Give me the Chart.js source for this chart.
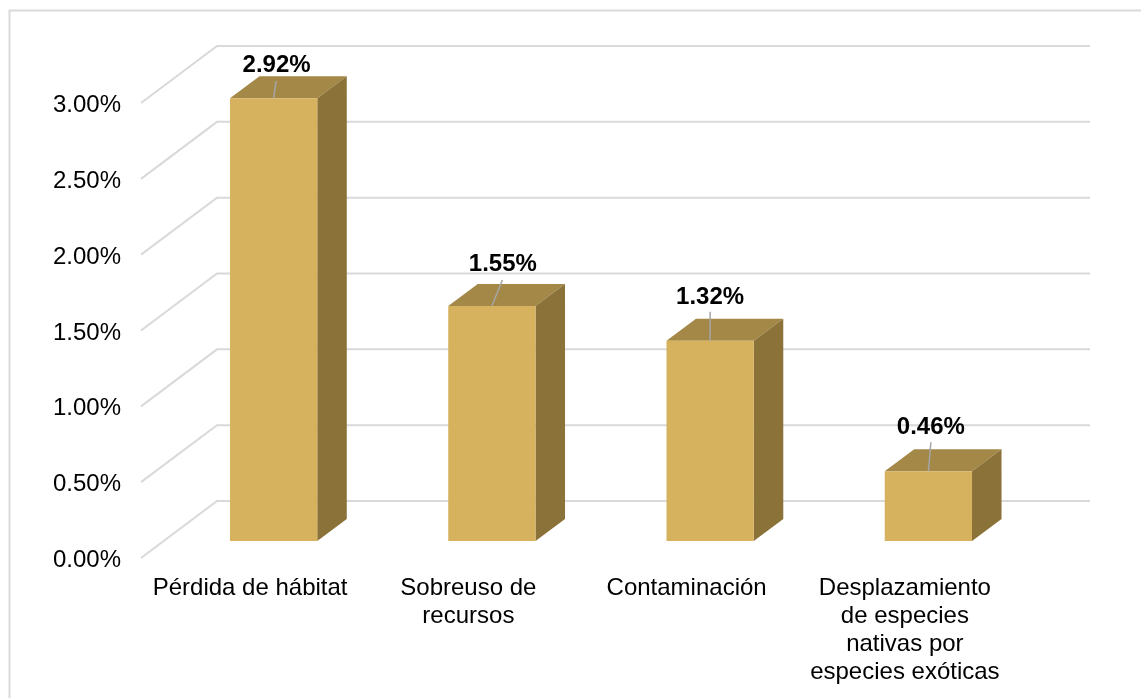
<!DOCTYPE html>
<html lang="es">
<head>
<meta charset="utf-8">
<title>Amenazas</title>
<script src="https://cdn.jsdelivr.net/npm/chart.js@4/dist/chart.umd.min.js"></script>
<style>
  html, body { margin: 0; padding: 0; background: #fff; }
  canvas { display: block; }
</style>
</head>
<body>
<canvas id="chart" width="1141" height="698"></canvas>
<script>
const categories = [
  'Pérdida de hábitat',
  ['Sobreuso de', 'recursos'],
  'Contaminación',
  ['Desplazamiento', 'de especies', 'nativas por', 'especies exóticas']
];
const values = [2.92, 1.55, 1.32, 0.46];
const tickLabels = ['0.00%', '0.50%', '1.00%', '1.50%', '2.00%', '2.50%', '3.00%'];
const wallTicks = [0, 0.5, 1, 1.5, 2, 2.5, 3];
// where each data label and its leader line sit, relative to the top centre of the bar
const labelOffsets = [[3, -33], [11, -42], [0, -43], [2.5, -43.5]];
const leaderOffsets = [[2.5, -17], [10.5, -26], [0, -29], [2.5, -29]];

const FONT = '"Liberation Sans", Arial, sans-serif';
const wall = { dx: 76, dy: -57 };
const barShift = { dx: 23.5, dy: -17 };
const depth = { dx: 29.5, dy: -22 };

const box3d = {
  id: 'box3d',
  beforeDraw(chart) {
    const c = chart.ctx;
    c.save();
    c.strokeStyle = '#d9d9d9';
    c.lineWidth = 2;
    c.beginPath();
    c.moveTo(9.5, 698);
    c.lineTo(9.5, 10.5);
    c.lineTo(1141, 10.5);
    c.stroke();
    c.restore();
  },
  beforeDatasetsDraw(chart) {
    const c = chart.ctx;
    const { left, right } = chart.chartArea;
    c.save();
    c.strokeStyle = '#d9d9d9';
    c.lineWidth = 2;
    wallTicks.forEach(v => {
      const y = chart.scales.y.getPixelForValue(v);
      c.beginPath();
      c.moveTo(left, y);
      c.lineTo(left + wall.dx, y + wall.dy);
      c.lineTo(right + wall.dx, y + wall.dy);
      c.stroke();
    });
    c.restore();
  },
  beforeDatasetDraw(chart) {
    const c = chart.ctx;
    c.save();
    c.translate(barShift.dx, barShift.dy);
    chart.getDatasetMeta(0).data.forEach(bar => {
      const x0 = bar.x - bar.width / 2, x1 = bar.x + bar.width / 2;
      c.fillStyle = '#a38847';
      c.beginPath();
      c.moveTo(x0, bar.y);
      c.lineTo(x0 + depth.dx, bar.y + depth.dy);
      c.lineTo(x1 + depth.dx, bar.y + depth.dy);
      c.lineTo(x1, bar.y);
      c.closePath();
      c.fill();
      c.fillStyle = '#8a7239';
      c.beginPath();
      c.moveTo(x1, bar.y);
      c.lineTo(x1 + depth.dx, bar.y + depth.dy);
      c.lineTo(x1 + depth.dx, bar.base + depth.dy);
      c.lineTo(x1, bar.base);
      c.closePath();
      c.fill();
    });
  },
  afterDatasetDraw(chart) {
    chart.ctx.restore();
  },
  afterDatasetsDraw(chart) {
    const c = chart.ctx;
    c.save();
    chart.getDatasetMeta(0).data.forEach((bar, i) => {
      const x = bar.x + barShift.dx, y = bar.y + barShift.dy;
      c.strokeStyle = '#a6a6a6';
      c.lineWidth = 1.5;
      c.beginPath();
      c.moveTo(x, y);
      c.lineTo(x + leaderOffsets[i][0], y + leaderOffsets[i][1]);
      c.stroke();
      c.fillStyle = '#000';
      c.font = 'bold 24px ' + FONT;
      c.textAlign = 'center';
      c.textBaseline = 'middle';
      c.fillText(values[i].toFixed(2) + '%', x + labelOffsets[i][0], y + labelOffsets[i][1]);
    });
    c.restore();
  }
};

new Chart(document.getElementById('chart'), {
  type: 'bar',
  data: {
    labels: categories,
    datasets: [{
      data: values,
      backgroundColor: '#d6b25e',
      borderWidth: 0,
      barPercentage: 0.4,
      categoryPercentage: 1,
      clip: false
    }]
  },
  options: {
    responsive: false,
    animation: false,
    layout: { padding: { top: 103, right: 127, bottom: 0, left: 0 } },
    plugins: { legend: { display: false }, tooltip: { enabled: false } },
    scales: {
      x: {
        grid: { display: false },
        border: { display: false },
        afterFit(scale) { scale.height = 140; },
        ticks: {
          autoSkip: false, maxRotation: 0, minRotation: 0, padding: 8, color: '#000',
          font: { family: FONT, size: 24, lineHeight: 1.167 }
        }
      },
      y: {
        min: 0,
        max: 3,
        grid: { display: false },
        border: { display: false },
        afterFit(scale) { scale.width = 141; },
        ticks: {
          stepSize: 0.5, padding: 12, labelOffset: 2.5, color: '#000',
          font: { family: FONT, size: 24 },
          callback: (v, i) => tickLabels[i]
        }
      }
    }
  },
  plugins: [box3d]
});
</script>
</body>
</html>
